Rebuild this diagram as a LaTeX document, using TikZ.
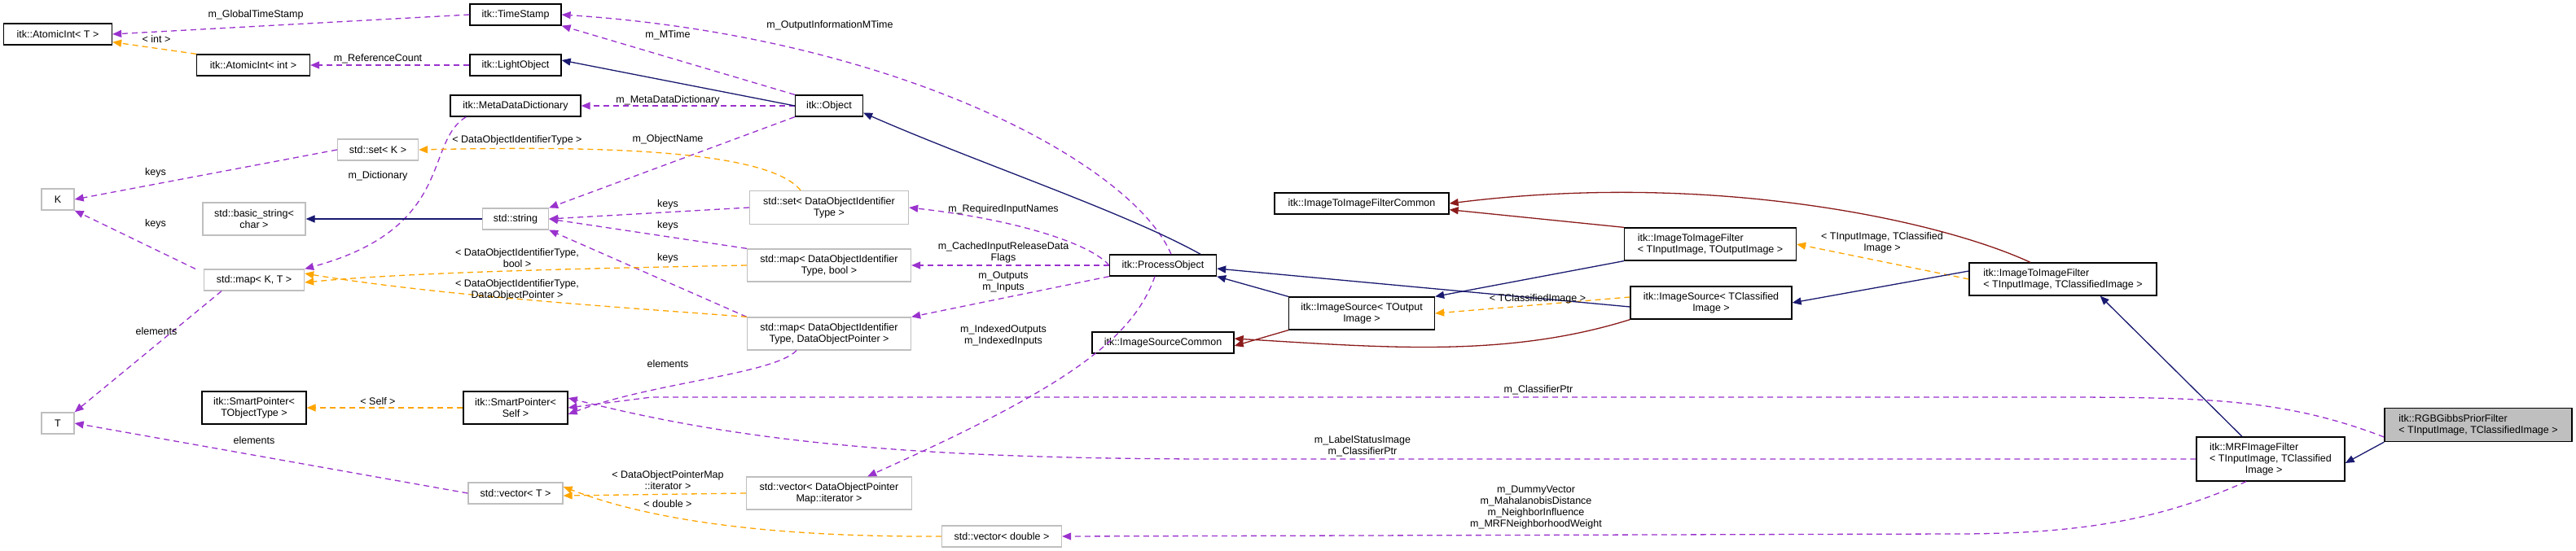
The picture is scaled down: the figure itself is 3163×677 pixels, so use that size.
\documentclass[tikz,border=0pt]{standalone}
\usepackage{fontspec}
\setmainfont{Liberation Sans}
\usetikzlibrary{arrows.meta}
\definecolor{pur}{HTML}{9A32CD}
\definecolor{org}{HTML}{FFA500}
\definecolor{nav}{HTML}{191970}
\definecolor{dred}{HTML}{8B1A1A}
\definecolor{gborder}{HTML}{BFBFBF}
\begin{document}
\begin{tikzpicture}[x=1pt,y=-1pt,
  font=\fontsize{12.5}{14}\selectfont,
  itk/.style={draw=black,line width=1.3pt,fill=white,inner sep=0pt,align=center},
  stdc/.style={draw=gborder,line width=1.3pt,fill=white,inner sep=0pt,align=center},
  lab/.style={inner sep=0pt,align=center,font=\fontsize{12.5}{14}\selectfont},
  tip/.style={-{Triangle[length=11pt,width=9pt]}},
  use/.style={tip,draw=pur,dash pattern=on 7pt off 5pt,line width=1.3pt},
  tpl/.style={tip,draw=org,dash pattern=on 7pt off 5pt,line width=1.3pt},
  inh/.style={tip,draw=nav,line width=1.3pt},
  prot/.style={tip,draw=dred,line width=1.3pt}]
\useasboundingbox (0,0) rectangle (3163,677);
% nodes
\node[itk,minimum width=133,minimum height=26] (AT) at (71,42) {itk::AtomicInt< T >};
\node[itk,minimum width=112,minimum height=26] (TS) at (633,18) {itk::TimeStamp};
\node[itk,minimum width=139,minimum height=26] (AI) at (311,80) {itk::AtomicInt< int >};
\node[itk,minimum width=112,minimum height=26] (LO) at (633,80) {itk::LightObject};
\node[itk,minimum width=160,minimum height=26] (MDD) at (633,130) {itk::MetaDataDictionary};
\node[itk,minimum width=83,minimum height=26] (OB) at (1018,130) {itk::Object};
\node[stdc,minimum width=99,minimum height=26] (SK) at (464,184) {std::set< K >};
\node[stdc,minimum width=40,minimum height=26] (K) at (71,245) {K};
\node[stdc,minimum width=126,minimum height=40] (BS) at (312,269) {std::basic\_string<\\char >};
\node[stdc,minimum width=81,minimum height=26] (STR) at (633,269) {std::string};
\node[stdc,minimum width=123,minimum height=26] (MKT) at (312,344) {std::map< K, T >};
\node[stdc,minimum width=40,minimum height=26] (T) at (71,520) {T};
\node[itk,minimum width=128,minimum height=40] (SPT) at (312,501) {itk::SmartPointer<\\TObjectType >};
\node[itk,minimum width=128,minimum height=40] (SPS) at (633,501) {itk::SmartPointer<\\Self >};
\node[stdc,minimum width=116,minimum height=26] (VT) at (633,606) {std::vector< T >};
\node[stdc,minimum width=195,minimum height=41] (SD) at (1018,255) {std::set< DataObjectIdentifier\\Type >};
\node[stdc,minimum width=201,minimum height=40] (MB) at (1018,326) {std::map< DataObjectIdentifier\\Type, bool >};
\node[stdc,minimum width=201,minimum height=40] (MP) at (1018,410) {std::map< DataObjectIdentifier\\Type, DataObjectPointer >};
\node[stdc,minimum width=203,minimum height=40] (VI) at (1018,606) {std::vector< DataObjectPointer\\Map::iterator >};
\node[stdc,minimum width=147,minimum height=26] (VD) at (1230,659) {std::vector< double >};
\node[itk,minimum width=131,minimum height=26] (PO) at (1428,326) {itk::ProcessObject};
\node[itk,minimum width=174,minimum height=26] (ISC) at (1428,421) {itk::ImageSourceCommon};
\node[itk,minimum width=214,minimum height=26] (IFC) at (1672,250) {itk::ImageToImageFilterCommon};
\node[itk,minimum width=211,minimum height=40,align=left] (IF1) at (2100,300) {itk::ImageToImageFilter\\< TInputImage, TOutputImage >};
\node[itk,minimum width=179,minimum height=40] (IS1) at (1672,385) {itk::ImageSource< TOutput\\Image >};
\node[itk,minimum width=198,minimum height=40] (IS2) at (2101,372) {itk::ImageSource< TClassified\\Image >};
\node[itk,minimum width=230,minimum height=40,align=left] (IF2) at (2533,343) {itk::ImageToImageFilter\\< TInputImage, TClassifiedImage >};
\node[itk,minimum width=182,minimum height=54,align=left] (MRF) at (2788,564) {itk::MRFImageFilter\\< TInputImage, TClassified\\\hspace*{3.5em}Image >};
\node[itk,fill=gborder,minimum width=230,minimum height=41,align=left] (RGB) at (3043,522) {itk::RGBGibbsPriorFilter\\< TInputImage, TClassifiedImage >};
% usage edges
\begin{scope}[on background layer/.style={}]
\draw[use] (TS.west) -- (AT.east);
\draw[use] (LO) -- (AI);
\draw[use] (OB) -- (MDD);
\draw[use] (OB.north west) -- (TS.south east);
\draw[use] ([xshift=10]PO.north) .. controls (1390,200) and (1100,45) .. (TS.east);
\draw[use] (OB.south west) -- (STR.north east);
\draw[use] ([xshift=20]MDD.south west) .. controls (520,175) and (560,280) .. (MKT.north east);
\draw[use] (SK.west) -- (K.east);
\draw[use] ([xshift=-10]MKT.north west) -- (K.south east);
\draw[use] ([xshift=-40]MKT.south) -- (T.north east);
\draw[use] (VT.west) -- (T.east);
\draw[use] (SD.west) -- (STR.east);
\draw[use] (MB.north west) -- (STR.east);
\draw[use] (MP.north west) -- (STR.south east);
\draw[use] (PO.west) .. controls (1340,300) and (1250,270) .. (SD.east);
\draw[use] (PO.west) -- (MB.east);
\draw[use] (PO.south west) -- (MP.north east);
\draw[use] ([xshift=-10]PO.south) .. controls (1390,420) and (1300,480) .. ([xshift=-55]VI.north east);
\draw[use] ([xshift=-40]MP.south) .. controls (950,460) and (800,470) .. ([yshift=-8]SPS.east);
\draw[use] ([yshift=-15]RGB.west) .. controls (2800,488) and (2700,488) .. (2500,488) -- (800,488) -- (SPS.east);
\draw[use] (MRF.west) -- (1500,564) .. controls (1100,564) and (900,540) .. ([yshift=12]SPS.east);
\draw[use] ([xshift=-30]MRF.south) .. controls (2650,640) and (2550,656) .. (2400,656) -- (VD.east);
% template edges
\draw[tpl] (AI.north west) -- ([yshift=4]AT.south east);
\draw[tpl] ([xshift=-35]SD.north) .. controls (940,180) and (700,180) .. (SK.east);
\draw[tpl] (MB.west) .. controls (700,330) and (500,335) .. ([yshift=-3]MKT.east);
\draw[tpl] (MP.north west) .. controls (800,380) and (550,365) .. ([yshift=8]MKT.east);
\draw[tpl] (SPS.west) -- (SPT.east);
\draw[tpl] (VI.west) -- ([yshift=-3]VT.east);
\draw[tpl] (VD.west) .. controls (950,660) and (800,640) .. ([yshift=8]VT.east);
\draw[tpl] ([yshift=7]IS2.west) -- (IS1.east);
\draw[tpl] (IF2.west) -- (IF1.east);
% inheritance
\draw[inh] (OB.west) -- ([yshift=6]LO.east);
\draw[inh] ([xshift=-20]PO.north east) .. controls (1380,260) and (1200,200) .. ([yshift=5]OB.south east);
\draw[inh] (STR.west) -- (BS.east);
\draw[inh] (IS1.north west) -- (PO.south east);
\draw[inh] ([yshift=-5]IS2.west) -- ([yshift=-4]PO.east);
\draw[inh] (IF1.south west) -- (IS1.north east);
\draw[inh] ([yshift=10]IF2.west) -- (IS2.east);
\draw[inh] ([xshift=-35]MRF.north) -- ([xshift=-70]IF2.south east);
\draw[inh] (RGB.south west) -- ([yshift=-5]MRF.east);
% protected inheritance
\draw[prot] (IF1.north west) -- ([yshift=6]IFC.south east);
\draw[prot] ([xshift=-40]IF2.north) .. controls (2380,270) and (2100,210) .. (IFC.east);
\draw[prot] (IS1.south west) -- ([yshift=-4]ISC.east);
\draw[prot] (IS2.south west) .. controls (1850,440) and (1700,427) .. ([yshift=5]ISC.east);
\end{scope}
% labels
\node[lab] (l1) at (314,18) {m\_GlobalTimeStamp};
\node[lab] (l2) at (192,48) {< int >};
\node[lab] (l3) at (464,72) {m\_ReferenceCount};
\node[lab] (l4) at (635,172) {< DataObjectIdentifierType >};
\node[lab] (l5) at (464,216) {m\_Dictionary};
\node[lab] (l6) at (191,212) {keys};
\node[lab] (l7) at (191,275) {keys};
\node[lab] (l8) at (635,317) {< DataObjectIdentifierType,\\bool >};
\node[lab] (l9) at (635,356) {< DataObjectIdentifierType,\\DataObjectPointer >};
\node[lab] (l10) at (192,407) {elements};
\node[lab] (l11) at (464,493) {< Self >};
\node[lab] (l12) at (312,541) {elements};
\node[lab] (l13) at (1019,31) {m\_OutputInformationMTime};
\node[lab] (l14) at (820,43) {m\_MTime};
\node[lab] (l15) at (820,123) {m\_MetaDataDictionary};
\node[lab] (l16) at (820,171) {m\_ObjectName};
\node[lab] (l17) at (820,251) {keys};
\node[lab] (l18) at (820,277) {keys};
\node[lab] (l19) at (820,317) {keys};
\node[lab] (l20) at (1232,257) {m\_RequiredInputNames};
\node[lab] (l21) at (1232,310) {m\_CachedInputReleaseData\\Flags};
\node[lab] (l22) at (1232,346) {m\_Outputs\\m\_Inputs};
\node[lab] (l23) at (1232,412) {m\_IndexedOutputs\\m\_IndexedInputs};
\node[lab] (l24) at (820,447) {elements};
\node[lab] (l25) at (820,590) {< DataObjectPointerMap\\::iterator >};
\node[lab] (l26) at (820,619) {< double >};
\node[lab] (l27) at (1888,367) {< TClassifiedImage >};
\node[lab] (l28) at (2311,298) {< TInputImage, TClassified\\Image >};
\node[lab] (l29) at (1889,479) {m\_ClassifierPtr};
\node[lab] (l30) at (1673,548) {m\_LabelStatusImage\\m\_ClassifierPtr};
\node[lab] (l31) at (1886,623) {m\_DummyVector\\m\_MahalanobisDistance\\m\_NeighborInfluence\\m\_MRFNeighborhoodWeight};
\end{tikzpicture}
\end{document}
